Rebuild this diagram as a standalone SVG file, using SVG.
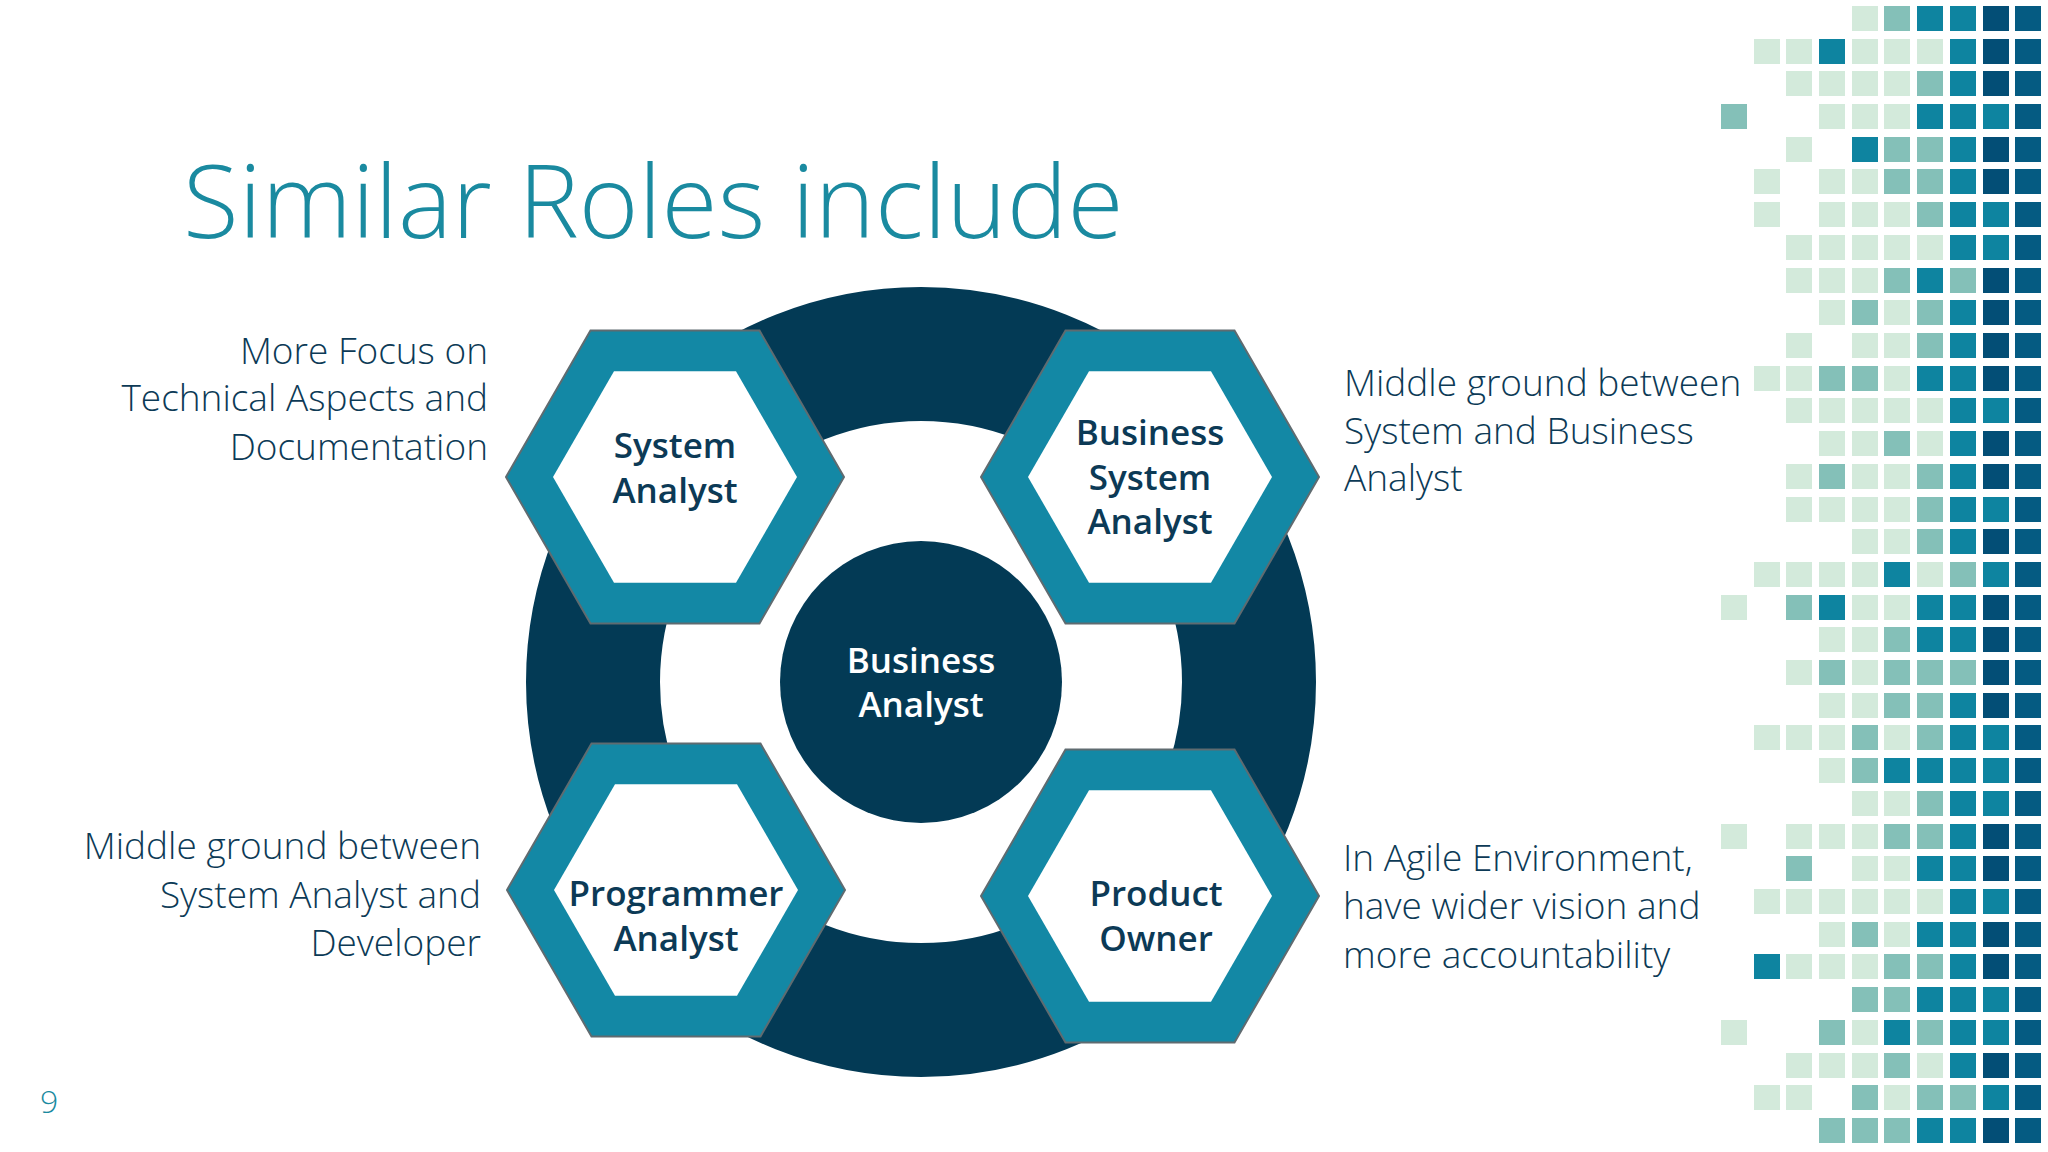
<svg xmlns="http://www.w3.org/2000/svg" width="2048" height="1152" viewBox="0 0 2048 1152">
<defs>
<style>
.L{fill:#d3eadb}.M{fill:#84c0b8}.T{fill:#0e84a0}.N{fill:#034e76}.D{fill:#055b82}
.side{font-family:"Open Sans","Liberation Sans",sans-serif;font-weight:300;font-size:37px;fill:#0c3a56}
.hx{font-family:"Open Sans","Liberation Sans",sans-serif;font-weight:600;font-size:35px;fill:#0c3a56;text-anchor:middle}
.outer{fill:#1388a5;stroke:#5f6b70;stroke-width:2}
.inner{fill:#ffffff}
</style>
<polygon id="hexO" points="-169,0 -84.5,-146.4 84.5,-146.4 169,0 84.5,146.4 -84.5,146.4"/>
<polygon id="hexI" points="-122,0 -61,-105.7 61,-105.7 122,0 61,105.7 -61,105.7"/>
</defs>
<rect width="2048" height="1152" fill="#ffffff"/>
<g id="mosaic"></g>
<text x="183" y="238" font-family="'Open Sans','Liberation Sans',sans-serif" font-weight="300" font-size="102" fill="#1a8aa0">Similar Roles include</text>
<text x="40" y="1113" font-family="'Open Sans','Liberation Sans',sans-serif" font-weight="300" font-size="32" fill="#1a8aa0">9</text>
<g id="connectors">
<circle cx="921" cy="682" r="328" fill="none" stroke="#033a55" stroke-width="134"/>
</g>
<g id="center"><circle cx="921" cy="682" r="141" fill="#033a55"/>
<text class="hx" x="921" y="673" style="fill:#ffffff">Business</text><text class="hx" x="921" y="717" style="fill:#ffffff">Analyst</text></g>
<g id="sa" transform="translate(675,477)"><use href="#hexO" class="outer"/><use href="#hexI" class="inner"/>
<text class="hx" x="0" y="-19">System</text><text class="hx" x="0" y="26">Analyst</text></g>
<g id="bsa" transform="translate(1150,477)"><use href="#hexO" class="outer"/><use href="#hexI" class="inner"/>
<text class="hx" x="0" y="-32">Business</text><text class="hx" x="0" y="13">System</text><text class="hx" x="0" y="57">Analyst</text></g>
<g id="pa" transform="translate(676,890)"><use href="#hexO" class="outer"/><use href="#hexI" class="inner"/>
<text class="hx" x="0" y="16">Programmer</text><text class="hx" x="0" y="61">Analyst</text></g>
<g id="po" transform="translate(1150,896)"><use href="#hexO" class="outer"/><use href="#hexI" class="inner"/>
<text class="hx" x="6" y="10">Product</text><text class="hx" x="6" y="55">Owner</text></g>
<g id="t1" class="side" text-anchor="end"><text x="488" y="364">More Focus on</text><text x="488" y="411">Technical Aspects and</text><text x="488" y="460">Documentation</text></g>
<g id="t2" class="side"><text x="1344" y="396">Middle ground between</text><text x="1344" y="444">System and Business</text><text x="1344" y="491">Analyst</text></g>
<g id="t3" class="side" text-anchor="end"><text x="481" y="859">Middle ground between</text><text x="481" y="908">System Analyst and</text><text x="481" y="956">Developer</text></g>
<g id="t4" class="side"><text x="1343" y="871">In Agile Environment,</text><text x="1343" y="919">have wider vision and</text><text x="1343" y="968">more accountability</text></g>
<g id="grid">
<!-- rows generated: x = 1721 + 32.7*c, y = 6 + 32.7*r, size 26 -->
<rect class="L" x="1852" y="6" width="26" height="25"/><rect class="M" x="1884" y="6" width="26" height="25"/><rect class="T" x="1917" y="6" width="26" height="25"/><rect class="T" x="1950" y="6" width="26" height="25"/><rect class="N" x="1983" y="6" width="26" height="25"/><rect class="D" x="2015" y="6" width="26" height="25"/>
<rect class="L" x="1754" y="39" width="26" height="25"/><rect class="L" x="1786" y="39" width="26" height="25"/><rect class="T" x="1819" y="39" width="26" height="25"/><rect class="L" x="1852" y="39" width="26" height="25"/><rect class="L" x="1884" y="39" width="26" height="25"/><rect class="L" x="1917" y="39" width="26" height="25"/><rect class="T" x="1950" y="39" width="26" height="25"/><rect class="N" x="1983" y="39" width="26" height="25"/><rect class="D" x="2015" y="39" width="26" height="25"/>
<rect class="L" x="1786" y="71" width="26" height="25"/><rect class="L" x="1819" y="71" width="26" height="25"/><rect class="L" x="1852" y="71" width="26" height="25"/><rect class="L" x="1884" y="71" width="26" height="25"/><rect class="M" x="1917" y="71" width="26" height="25"/><rect class="T" x="1950" y="71" width="26" height="25"/><rect class="N" x="1983" y="71" width="26" height="25"/><rect class="D" x="2015" y="71" width="26" height="25"/>
<rect class="M" x="1721" y="104" width="26" height="25"/><rect class="L" x="1819" y="104" width="26" height="25"/><rect class="L" x="1852" y="104" width="26" height="25"/><rect class="L" x="1884" y="104" width="26" height="25"/><rect class="T" x="1917" y="104" width="26" height="25"/><rect class="T" x="1950" y="104" width="26" height="25"/><rect class="T" x="1983" y="104" width="26" height="25"/><rect class="D" x="2015" y="104" width="26" height="25"/>
<rect class="L" x="1786" y="137" width="26" height="25"/><rect class="T" x="1852" y="137" width="26" height="25"/><rect class="M" x="1884" y="137" width="26" height="25"/><rect class="M" x="1917" y="137" width="26" height="25"/><rect class="T" x="1950" y="137" width="26" height="25"/><rect class="N" x="1983" y="137" width="26" height="25"/><rect class="D" x="2015" y="137" width="26" height="25"/>
<rect class="L" x="1754" y="169" width="26" height="25"/><rect class="L" x="1819" y="169" width="26" height="25"/><rect class="L" x="1852" y="169" width="26" height="25"/><rect class="M" x="1884" y="169" width="26" height="25"/><rect class="M" x="1917" y="169" width="26" height="25"/><rect class="T" x="1950" y="169" width="26" height="25"/><rect class="N" x="1983" y="169" width="26" height="25"/><rect class="D" x="2015" y="169" width="26" height="25"/>
<rect class="L" x="1754" y="202" width="26" height="25"/><rect class="L" x="1819" y="202" width="26" height="25"/><rect class="L" x="1852" y="202" width="26" height="25"/><rect class="L" x="1884" y="202" width="26" height="25"/><rect class="M" x="1917" y="202" width="26" height="25"/><rect class="T" x="1950" y="202" width="26" height="25"/><rect class="T" x="1983" y="202" width="26" height="25"/><rect class="D" x="2015" y="202" width="26" height="25"/>
<rect class="L" x="1786" y="235" width="26" height="25"/><rect class="L" x="1819" y="235" width="26" height="25"/><rect class="L" x="1852" y="235" width="26" height="25"/><rect class="L" x="1884" y="235" width="26" height="25"/><rect class="L" x="1917" y="235" width="26" height="25"/><rect class="T" x="1950" y="235" width="26" height="25"/><rect class="T" x="1983" y="235" width="26" height="25"/><rect class="D" x="2015" y="235" width="26" height="25"/>
<rect class="L" x="1786" y="268" width="26" height="25"/><rect class="L" x="1819" y="268" width="26" height="25"/><rect class="L" x="1852" y="268" width="26" height="25"/><rect class="M" x="1884" y="268" width="26" height="25"/><rect class="T" x="1917" y="268" width="26" height="25"/><rect class="M" x="1950" y="268" width="26" height="25"/><rect class="N" x="1983" y="268" width="26" height="25"/><rect class="D" x="2015" y="268" width="26" height="25"/>
<rect class="L" x="1819" y="300" width="26" height="25"/><rect class="M" x="1852" y="300" width="26" height="25"/><rect class="L" x="1884" y="300" width="26" height="25"/><rect class="M" x="1917" y="300" width="26" height="25"/><rect class="T" x="1950" y="300" width="26" height="25"/><rect class="N" x="1983" y="300" width="26" height="25"/><rect class="D" x="2015" y="300" width="26" height="25"/>
<rect class="L" x="1786" y="333" width="26" height="25"/><rect class="L" x="1852" y="333" width="26" height="25"/><rect class="L" x="1884" y="333" width="26" height="25"/><rect class="M" x="1917" y="333" width="26" height="25"/><rect class="T" x="1950" y="333" width="26" height="25"/><rect class="N" x="1983" y="333" width="26" height="25"/><rect class="D" x="2015" y="333" width="26" height="25"/>
<rect class="L" x="1754" y="366" width="26" height="25"/><rect class="L" x="1786" y="366" width="26" height="25"/><rect class="M" x="1819" y="366" width="26" height="25"/><rect class="M" x="1852" y="366" width="26" height="25"/><rect class="L" x="1884" y="366" width="26" height="25"/><rect class="T" x="1917" y="366" width="26" height="25"/><rect class="T" x="1950" y="366" width="26" height="25"/><rect class="N" x="1983" y="366" width="26" height="25"/><rect class="D" x="2015" y="366" width="26" height="25"/>
<rect class="L" x="1786" y="398" width="26" height="25"/><rect class="L" x="1819" y="398" width="26" height="25"/><rect class="L" x="1852" y="398" width="26" height="25"/><rect class="L" x="1884" y="398" width="26" height="25"/><rect class="L" x="1917" y="398" width="26" height="25"/><rect class="T" x="1950" y="398" width="26" height="25"/><rect class="T" x="1983" y="398" width="26" height="25"/><rect class="D" x="2015" y="398" width="26" height="25"/>
<rect class="L" x="1819" y="431" width="26" height="25"/><rect class="L" x="1852" y="431" width="26" height="25"/><rect class="M" x="1884" y="431" width="26" height="25"/><rect class="L" x="1917" y="431" width="26" height="25"/><rect class="T" x="1950" y="431" width="26" height="25"/><rect class="N" x="1983" y="431" width="26" height="25"/><rect class="D" x="2015" y="431" width="26" height="25"/>
<rect class="L" x="1786" y="464" width="26" height="25"/><rect class="M" x="1819" y="464" width="26" height="25"/><rect class="L" x="1852" y="464" width="26" height="25"/><rect class="L" x="1884" y="464" width="26" height="25"/><rect class="M" x="1917" y="464" width="26" height="25"/><rect class="T" x="1950" y="464" width="26" height="25"/><rect class="N" x="1983" y="464" width="26" height="25"/><rect class="D" x="2015" y="464" width="26" height="25"/>
<rect class="L" x="1786" y="497" width="26" height="25"/><rect class="L" x="1819" y="497" width="26" height="25"/><rect class="L" x="1852" y="497" width="26" height="25"/><rect class="L" x="1884" y="497" width="26" height="25"/><rect class="M" x="1917" y="497" width="26" height="25"/><rect class="T" x="1950" y="497" width="26" height="25"/><rect class="T" x="1983" y="497" width="26" height="25"/><rect class="D" x="2015" y="497" width="26" height="25"/>
<rect class="L" x="1852" y="529" width="26" height="25"/><rect class="L" x="1884" y="529" width="26" height="25"/><rect class="M" x="1917" y="529" width="26" height="25"/><rect class="T" x="1950" y="529" width="26" height="25"/><rect class="N" x="1983" y="529" width="26" height="25"/><rect class="D" x="2015" y="529" width="26" height="25"/>
<rect class="L" x="1754" y="562" width="26" height="25"/><rect class="L" x="1786" y="562" width="26" height="25"/><rect class="L" x="1819" y="562" width="26" height="25"/><rect class="L" x="1852" y="562" width="26" height="25"/><rect class="T" x="1884" y="562" width="26" height="25"/><rect class="L" x="1917" y="562" width="26" height="25"/><rect class="M" x="1950" y="562" width="26" height="25"/><rect class="T" x="1983" y="562" width="26" height="25"/><rect class="D" x="2015" y="562" width="26" height="25"/>
<rect class="L" x="1721" y="595" width="26" height="25"/><rect class="M" x="1786" y="595" width="26" height="25"/><rect class="T" x="1819" y="595" width="26" height="25"/><rect class="L" x="1852" y="595" width="26" height="25"/><rect class="L" x="1884" y="595" width="26" height="25"/><rect class="T" x="1917" y="595" width="26" height="25"/><rect class="T" x="1950" y="595" width="26" height="25"/><rect class="N" x="1983" y="595" width="26" height="25"/><rect class="D" x="2015" y="595" width="26" height="25"/>
<rect class="L" x="1819" y="627" width="26" height="25"/><rect class="L" x="1852" y="627" width="26" height="25"/><rect class="M" x="1884" y="627" width="26" height="25"/><rect class="T" x="1917" y="627" width="26" height="25"/><rect class="T" x="1950" y="627" width="26" height="25"/><rect class="N" x="1983" y="627" width="26" height="25"/><rect class="D" x="2015" y="627" width="26" height="25"/>
<rect class="L" x="1786" y="660" width="26" height="25"/><rect class="M" x="1819" y="660" width="26" height="25"/><rect class="L" x="1852" y="660" width="26" height="25"/><rect class="M" x="1884" y="660" width="26" height="25"/><rect class="M" x="1917" y="660" width="26" height="25"/><rect class="M" x="1950" y="660" width="26" height="25"/><rect class="N" x="1983" y="660" width="26" height="25"/><rect class="D" x="2015" y="660" width="26" height="25"/>
<rect class="L" x="1819" y="693" width="26" height="25"/><rect class="L" x="1852" y="693" width="26" height="25"/><rect class="M" x="1884" y="693" width="26" height="25"/><rect class="M" x="1917" y="693" width="26" height="25"/><rect class="T" x="1950" y="693" width="26" height="25"/><rect class="N" x="1983" y="693" width="26" height="25"/><rect class="D" x="2015" y="693" width="26" height="25"/>
<rect class="L" x="1754" y="725" width="26" height="25"/><rect class="L" x="1786" y="725" width="26" height="25"/><rect class="L" x="1819" y="725" width="26" height="25"/><rect class="M" x="1852" y="725" width="26" height="25"/><rect class="L" x="1884" y="725" width="26" height="25"/><rect class="M" x="1917" y="725" width="26" height="25"/><rect class="T" x="1950" y="725" width="26" height="25"/><rect class="T" x="1983" y="725" width="26" height="25"/><rect class="D" x="2015" y="725" width="26" height="25"/>
<rect class="L" x="1819" y="758" width="26" height="25"/><rect class="M" x="1852" y="758" width="26" height="25"/><rect class="T" x="1884" y="758" width="26" height="25"/><rect class="T" x="1917" y="758" width="26" height="25"/><rect class="T" x="1950" y="758" width="26" height="25"/><rect class="T" x="1983" y="758" width="26" height="25"/><rect class="D" x="2015" y="758" width="26" height="25"/>
<rect class="L" x="1852" y="791" width="26" height="25"/><rect class="L" x="1884" y="791" width="26" height="25"/><rect class="M" x="1917" y="791" width="26" height="25"/><rect class="T" x="1950" y="791" width="26" height="25"/><rect class="T" x="1983" y="791" width="26" height="25"/><rect class="D" x="2015" y="791" width="26" height="25"/>
<rect class="L" x="1721" y="824" width="26" height="25"/><rect class="L" x="1786" y="824" width="26" height="25"/><rect class="L" x="1819" y="824" width="26" height="25"/><rect class="L" x="1852" y="824" width="26" height="25"/><rect class="M" x="1884" y="824" width="26" height="25"/><rect class="M" x="1917" y="824" width="26" height="25"/><rect class="T" x="1950" y="824" width="26" height="25"/><rect class="N" x="1983" y="824" width="26" height="25"/><rect class="D" x="2015" y="824" width="26" height="25"/>
<rect class="M" x="1786" y="856" width="26" height="25"/><rect class="L" x="1852" y="856" width="26" height="25"/><rect class="L" x="1884" y="856" width="26" height="25"/><rect class="T" x="1917" y="856" width="26" height="25"/><rect class="T" x="1950" y="856" width="26" height="25"/><rect class="N" x="1983" y="856" width="26" height="25"/><rect class="D" x="2015" y="856" width="26" height="25"/>
<rect class="L" x="1754" y="889" width="26" height="25"/><rect class="L" x="1786" y="889" width="26" height="25"/><rect class="L" x="1819" y="889" width="26" height="25"/><rect class="L" x="1852" y="889" width="26" height="25"/><rect class="L" x="1884" y="889" width="26" height="25"/><rect class="L" x="1917" y="889" width="26" height="25"/><rect class="T" x="1950" y="889" width="26" height="25"/><rect class="T" x="1983" y="889" width="26" height="25"/><rect class="D" x="2015" y="889" width="26" height="25"/>
<rect class="L" x="1819" y="922" width="26" height="25"/><rect class="M" x="1852" y="922" width="26" height="25"/><rect class="L" x="1884" y="922" width="26" height="25"/><rect class="T" x="1917" y="922" width="26" height="25"/><rect class="T" x="1950" y="922" width="26" height="25"/><rect class="N" x="1983" y="922" width="26" height="25"/><rect class="D" x="2015" y="922" width="26" height="25"/>
<rect class="T" x="1754" y="954" width="26" height="25"/><rect class="L" x="1786" y="954" width="26" height="25"/><rect class="L" x="1819" y="954" width="26" height="25"/><rect class="L" x="1852" y="954" width="26" height="25"/><rect class="M" x="1884" y="954" width="26" height="25"/><rect class="M" x="1917" y="954" width="26" height="25"/><rect class="T" x="1950" y="954" width="26" height="25"/><rect class="N" x="1983" y="954" width="26" height="25"/><rect class="D" x="2015" y="954" width="26" height="25"/>
<rect class="M" x="1852" y="987" width="26" height="25"/><rect class="M" x="1884" y="987" width="26" height="25"/><rect class="T" x="1917" y="987" width="26" height="25"/><rect class="T" x="1950" y="987" width="26" height="25"/><rect class="T" x="1983" y="987" width="26" height="25"/><rect class="D" x="2015" y="987" width="26" height="25"/>
<rect class="L" x="1721" y="1020" width="26" height="25"/><rect class="M" x="1819" y="1020" width="26" height="25"/><rect class="L" x="1852" y="1020" width="26" height="25"/><rect class="T" x="1884" y="1020" width="26" height="25"/><rect class="M" x="1917" y="1020" width="26" height="25"/><rect class="T" x="1950" y="1020" width="26" height="25"/><rect class="T" x="1983" y="1020" width="26" height="25"/><rect class="D" x="2015" y="1020" width="26" height="25"/>
<rect class="L" x="1786" y="1053" width="26" height="25"/><rect class="L" x="1819" y="1053" width="26" height="25"/><rect class="L" x="1852" y="1053" width="26" height="25"/><rect class="M" x="1884" y="1053" width="26" height="25"/><rect class="L" x="1917" y="1053" width="26" height="25"/><rect class="T" x="1950" y="1053" width="26" height="25"/><rect class="N" x="1983" y="1053" width="26" height="25"/><rect class="D" x="2015" y="1053" width="26" height="25"/>
<rect class="L" x="1754" y="1085" width="26" height="25"/><rect class="L" x="1786" y="1085" width="26" height="25"/><rect class="M" x="1852" y="1085" width="26" height="25"/><rect class="L" x="1884" y="1085" width="26" height="25"/><rect class="M" x="1917" y="1085" width="26" height="25"/><rect class="M" x="1950" y="1085" width="26" height="25"/><rect class="T" x="1983" y="1085" width="26" height="25"/><rect class="D" x="2015" y="1085" width="26" height="25"/>
<rect class="M" x="1819" y="1118" width="26" height="25"/><rect class="M" x="1852" y="1118" width="26" height="25"/><rect class="M" x="1884" y="1118" width="26" height="25"/><rect class="T" x="1917" y="1118" width="26" height="25"/><rect class="T" x="1950" y="1118" width="26" height="25"/><rect class="N" x="1983" y="1118" width="26" height="25"/><rect class="D" x="2015" y="1118" width="26" height="25"/>
</g>
</svg>
